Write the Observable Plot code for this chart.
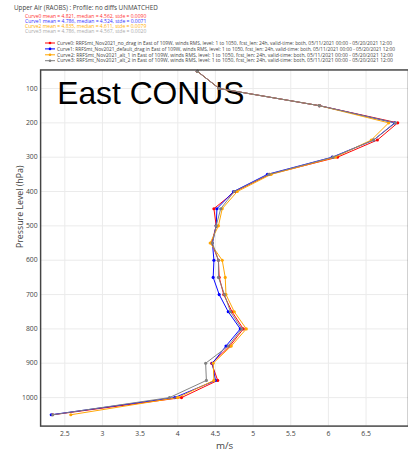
<!DOCTYPE html>
<html><head><meta charset="utf-8">
<script src="https://cdn.jsdelivr.net/npm/d3@7"></script>
<script src="https://cdn.jsdelivr.net/npm/@observablehq/plot@0.6"></script>
<style>
body{margin:0;overflow:hidden;background:#fff;font-family:"Open Sans","Liberation Sans",Arial,sans-serif;}
#wrap{position:relative;width:408px;height:466px;overflow:hidden;}
#chart{position:absolute;left:0;top:0;}
#head{position:absolute;left:0;top:0;}
</style></head><body>
<div id="wrap"><div id="chart"></div><svg id="head" width="408" height="68"></svg></div>
<script>
const levels = [50,100,150,200,250,300,350,400,450,500,550,600,650,700,750,800,850,900,950,1000,1050];
const curve0 = [4.26,4.55,5.88,6.92,6.65,6.12,5.22,4.76,4.48,4.51,4.45,4.54,4.55,4.61,4.72,4.87,4.69,4.45,4.53,4.05,2.34];
const curve1 = [4.26,4.55,5.88,6.88,6.60,6.05,5.19,4.74,4.52,4.51,4.46,4.48,4.47,4.55,4.67,4.83,4.64,4.46,4.50,3.96,2.32];
const curve2 = [4.26,4.55,5.88,6.80,6.57,6.09,5.24,4.79,4.59,4.54,4.43,4.59,4.63,4.64,4.75,4.91,4.71,4.47,4.48,4.00,2.58];
const curve3 = [4.26,4.55,5.88,6.89,6.60,6.06,5.21,4.75,4.57,4.51,4.46,4.54,4.54,4.62,4.70,4.85,4.67,4.37,4.38,3.89,2.34];
const curveNames = [
 "Curve0: RRFSmt_Nov2021_no_drag in East of 109W, winds RMS, level: 1 to 1050, fcst_len: 24h, valid-time: both, 05/11/2021 00:00 - 05/20/2021 12:00",
 "Curve1: RRFSmt_Nov2021_default_drag in East of 109W, winds RMS, level: 1 to 1050, fcst_len: 24h, valid-time: both, 05/11/2021 00:00 - 05/20/2021 12:00",
 "Curve2: RRFSmt_Nov2021_alt_1 in East of 109W, winds RMS, level: 1 to 1050, fcst_len: 24h, valid-time: both, 05/11/2021 00:00 - 05/20/2021 12:00",
 "Curve3: RRFSmt_Nov2021_alt_2 in East of 109W, winds RMS, level: 1 to 1050, fcst_len: 24h, valid-time: both, 05/11/2021 00:00 - 05/20/2021 12:00"
];
const statLines = [
 "Curve0 mean = 4.821, median = 4.562, stde = 0.0090",
 "Curve1 mean = 4.786, median = 4.524, stde = 0.0071",
 "Curve2 mean = 4.835, median = 4.611, stde = 0.0079",
 "Curve3 mean = 4.786, median = 4.567, stde = 0.0020"
];
const colors = ["#ff0000","#0000ff","#ffa500","#808080"];
const statColors = ["#ff3333","#3333ff","#ffb000","#aaaaaa"];
const legendWidths = [335, 338, 336, 336];
const xTicks = [2.5,3,3.5,4,4.5,5,5.5,6,6.5];
const yTicks = [100,200,300,400,500,600,700,800,900,1000];
const titleText = "Upper Air (RAOBS) : Profile: no diffs UNMATCHED";
const regionText = "East CONUS";

const series = [curve0, curve1, curve2, curve3];
const curveMarks = [];
series.forEach((vals, i) => {
  const rows = levels.map((p, j) => ({p, v: vals[j]}));
  curveMarks.push(Plot.line(rows, {x: "v", y: "p", stroke: colors[i], strokeWidth: 1}));
  curveMarks.push(Plot.dot(rows, {x: "v", y: "p", fill: colors[i], r: 1.6}));
});

const plot = Plot.plot({
  width: 417, height: 466,
  marginTop: 71, marginBottom: 31, marginLeft: 41, marginRight: 0,
  style: {fontFamily: "'Open Sans', 'Liberation Sans', Arial, sans-serif", fontSize: "7px", color: "#444", background: "transparent"},
  x: {domain: [2.179, 7.063]},
  y: {domain: [1083, 46]},
  marks: [
    Plot.gridX(xTicks, {stroke: "#ebebeb", strokeOpacity: 1}),
    Plot.gridY(yTicks, {stroke: "#ebebeb", strokeOpacity: 1}),
    Plot.axisX(xTicks, {tickSize: 0, tickPadding: 5, label: null, tickFormat: d => String(d)}),
    Plot.axisY(yTicks, {tickSize: 0, tickPadding: 3, label: null, tickFormat: d => String(d)}),
    Plot.text([regionText], {frameAnchor: "top-left", dx: 17, dy: 12, fontSize: 32.5, fontFamily: "'Liberation Sans', Arial, sans-serif", fill: "#000", textAnchor: "start", lineAnchor: "top"}),
    ...curveMarks,
    Plot.frame({stroke: "#444", strokeWidth: 1.5}),
    Plot.text(["m/s"], {frameAnchor: "bottom", dy: 23, fontSize: 10, fill: "#444"}),
    Plot.text(["Pressure Level (hPa)"], {frameAnchor: "left", dx: -21, rotate: -90, fontSize: 9, fill: "#444"})
  ]
});
document.getElementById("chart").appendChild(plot);

const head = d3.select("#head");
head.append("text").attr("x", 14).attr("y", 10).attr("font-size", 6.3).attr("fill", "#444").text(titleText);
statLines.forEach((t, i) => {
  head.append("text").attr("x", 25).attr("y", 17.5 + 5 * i).attr("font-size", 5.0).attr("fill", statColors[i]).text(t);
});
curveNames.forEach((t, i) => {
  const y = 43 + 5.9 * i;
  head.append("line").attr("x1", 45).attr("x2", 55).attr("y1", y).attr("y2", y).attr("stroke", colors[i]).attr("stroke-width", 1);
  head.append("circle").attr("cx", 50).attr("cy", y).attr("r", 1.3).attr("fill", colors[i]);
  head.append("text").attr("x", 57).attr("y", y).attr("dy", "0.35em").attr("font-size", 4.9)
    .attr("textLength", legendWidths[i]).attr("lengthAdjust", "spacingAndGlyphs").attr("fill", "#444").text(t);
});
</script>
</body></html>
